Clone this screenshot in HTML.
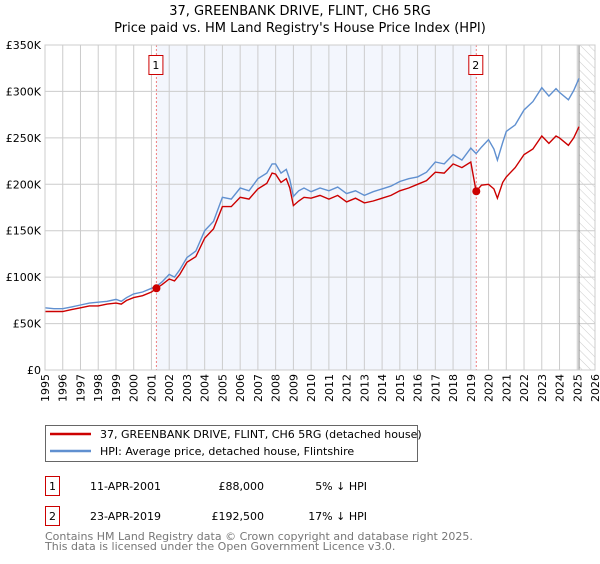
<!DOCTYPE html>
<html><head><meta charset="utf-8"><style>
body{margin:0;background:#fff;width:600px;height:560px;overflow:hidden;font-family:"DejaVu Sans","Liberation Sans",sans-serif}
text{font-family:"DejaVu Sans","Liberation Sans",sans-serif}
</style></head><body>
<svg id="c" width="600" height="560" xmlns="http://www.w3.org/2000/svg">
<defs><pattern id="hatch" width="6" height="6" patternUnits="userSpaceOnUse" patternTransform="rotate(-45)"><line x1="0" y1="0" x2="0" y2="6" stroke="#ccc" stroke-width="1"/></pattern></defs>
<text x="300" y="15" text-anchor="middle" font-size="13">37, GREENBANK DRIVE, FLINT, CH6 5RG</text>
<text x="300" y="32" text-anchor="middle" font-size="13">Price paid vs. HM Land Registry's House Price Index (HPI)</text>
<g id="plot"></g>
<g>
<rect x="45.5" y="425.5" width="372" height="36" fill="#fff" stroke="#666"/>
<line x1="50" y1="434" x2="91" y2="434" stroke="#cc0000" stroke-width="2.5"/>
<text x="100" y="438" font-size="11">37, GREENBANK DRIVE, FLINT, CH6 5RG (detached house)</text>
<line x1="50" y1="451" x2="91" y2="451" stroke="#6090d0" stroke-width="2.5"/>
<text x="100" y="455" font-size="11">HPI: Average price, detached house, Flintshire</text>
</g>
<g font-size="11">
<rect x="45.5" y="476.5" width="14" height="19" fill="#fff" stroke="#cc0000"/>
<text x="52.5" y="490" text-anchor="middle">1</text>
<text x="90" y="490">11-APR-2001</text>
<text x="264" y="490" text-anchor="end">£88,000</text>
<text x="367" y="490" text-anchor="end">5% ↓ HPI</text>
</g>
<g font-size="11">
<rect x="45.5" y="506.5" width="14" height="19" fill="#fff" stroke="#cc0000"/>
<text x="52.5" y="520" text-anchor="middle">2</text>
<text x="90" y="520">23-APR-2019</text>
<text x="264" y="520" text-anchor="end">£192,500</text>
<text x="367" y="520" text-anchor="end">17% ↓ HPI</text>
</g>
<text x="45" y="540" font-size="11" fill="#777">Contains HM Land Registry data © Crown copyright and database right 2025.</text>
<text x="45" y="550" font-size="11" fill="#777">This data is licensed under the Open Government Licence v3.0.</text>
</svg>
<script>
const hpiT=[1995,1995.5,1996,1996.5,1997,1997.5,1998,1998.5,1999,1999.3,1999.6,2000,2000.5,2001,2001.28,2001.6,2002,2002.3,2002.6,2003,2003.5,2004,2004.5,2005,2005.5,2006,2006.5,2007,2007.5,2007.8,2008,2008.3,2008.6,2008.8,2009,2009.3,2009.6,2010,2010.5,2011,2011.5,2012,2012.5,2013,2013.5,2014,2014.5,2015,2015.5,2016,2016.5,2017,2017.5,2018,2018.5,2019,2019.3,2019.6,2020,2020.3,2020.5,2020.8,2021,2021.5,2022,2022.5,2023,2023.4,2023.8,2024,2024.5,2024.8,2025.1];
const hpiV=[67,66,66,68,70,72,73,74,76,74,78,82,84,88,90,95,103,100,108,121,128,150,160,186,184,196,193,206,212,222,222,212,216,205,187,193,196,192,196,193,197,190,193,188,192,195,198,203,206,208,213,224,222,232,226,239,233,240,248,238,226,245,257,264,280,289,304,295,303,299,291,301,314];
const ppT=hpiT;
const ppV=[63,63,63,65,67,69,69,71,72,71,75,78,80,84,88,92,98,96,103,116,122,142,152,176,176,186,184,195,201,212,211,202,206,196,177,182,186,185,188,184,188,181,185,180,182,185,188,193,196,200,204,213,212,222,218,224,192.5,199,200,195,185,202,208,218,232,238,252,244,252,250,242,250,262];
const sales=[[2001.28,88,"1"],[2019.31,192.5,"2"]];
const yTicks=[0,50,100,150,200,250,300,350];
const yTickLabels=["£0","£50K","£100K","£150K","£200K","£250K","£300K","£350K"];
const xYears=[];for(let y=1995;y<=2026;y++)xYears.push(y);
const X0=45,X1=595,Y0=370,Y1=45;
const xs=t=>X0+(t-1995)*(X1-X0)/31;
const ys=v=>Y0-v*(Y0-Y1)/350;
const ns="http://www.w3.org/2000/svg";
const g=document.getElementById('plot');
function mk(tag,a,parent){const e=document.createElementNS(ns,tag);for(const k in a)e.setAttribute(k,a[k]);(parent||g).appendChild(e);return e;}
let r=mk('rect',{x:xs(sales[0][0]),y:Y1,width:xs(sales[1][0])-xs(sales[0][0]),height:Y0-Y1,fill:'#f3f6fd'});


r=mk('rect',{x:xs(2025.1),y:Y1,width:X1-xs(2025.1),height:Y0-Y1,fill:'url(#hatch)'});


xYears.forEach(y=>{const l=mk('line',{x1:xs(y),x2:xs(y),y1:Y1,y2:Y0,stroke:'#ccc'});


const t=mk('text',{transform:`translate(${xs(y)+4},${Y0+4}) rotate(-90)`,'text-anchor':'end','font-size':'11'});t.textContent=y;

});
yTicks.forEach((v,i)=>{const l=mk('line',{x1:X0,x2:X1,y1:ys(v),y2:ys(v),stroke:'#ccc'});


const t=mk('text',{x:X0-4,y:ys(v)+4,'text-anchor':'end','font-size':'11'});t.textContent=yTickLabels[i];

});
let vl=mk('line',{x1:xs(2025.1),x2:xs(2025.1),y1:Y1,y2:Y0,stroke:'#888'});


sales.forEach(s=>{const l=mk('line',{x1:xs(s[0]),x2:xs(s[0]),y1:Y1,y2:Y0,stroke:'#f08080','stroke-dasharray':'2,2'});


const b=mk('rect',{x:xs(s[0])-7.5,y:55.5,width:14,height:19,fill:'#fff',stroke:'#cc0000'});


const t=mk('text',{x:xs(s[0])-0.5,y:69,'text-anchor':'middle','font-size':'11'});t.textContent=s[2];

});
function path(T,V,c,name){const p=mk('path',{d:T.map((t,i)=>(i?'L':'M')+xs(t).toFixed(1)+','+ys(V[i]).toFixed(1)).join(''),fill:'none',stroke:c,'stroke-width':'1.4'});

}
path(hpiT,hpiV,'#6090d0','hpi-line');
path(ppT,ppV,'#cc0000','price-paid-line');
sales.forEach(s=>{const c=mk('circle',{cx:xs(s[0]),cy:ys(s[1]),r:4,fill:'#cc0000'});

});
const fr=mk('rect',{x:X0,y:Y1,width:X1-X0,height:Y0-Y1,fill:'none',stroke:'#ccc'});


</script>
</body></html>
